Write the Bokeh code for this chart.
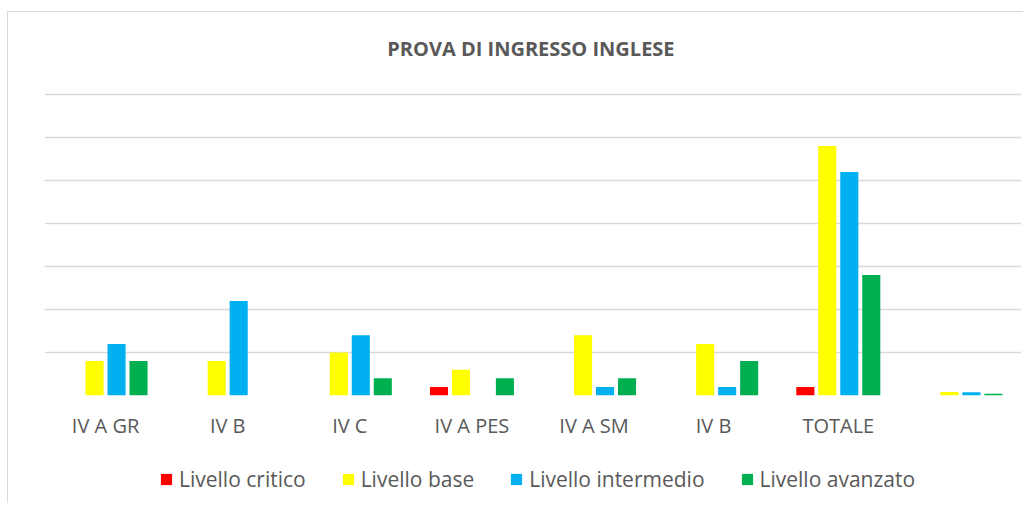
from bokeh.plotting import figure
from bokeh.models import FactorRange, Legend, LegendItem, ColumnDataSource, Range1d, Label
from bokeh.layouts import column
from bokeh.transform import dodge
from bokeh.embed import file_html
from bokeh.resources import INLINE

categories = ["IV A GR", "IV B", "IV C", "IV A PES", "IV A SM", "IV B ", "TOTALE", " "]
critico = [0, 0, 0, 1, 0, 0, 1, 0.014]
base = [4, 4, 5, 3, 7, 6, 29, 0.414]
intermedio = [6, 11, 7, 0, 1, 1, 26, 0.371]
avanzato = [4, 0, 2, 2, 2, 4, 14, 0.2]
series_names = ["Livello critico", "Livello base", "Livello intermedio", "Livello avanzato"]
colors = ["#FF0000", "#FFFF00", "#00B0F0", "#00B050"]
title_text = "PROVA DI INGRESSO  INGLESE"

border = "1px solid #d9d9d9"

# title row
tf = figure(x_range=Range1d(0, 1), y_range=Range1d(0, 1), frame_width=1015, frame_height=79,
            output_backend="svg", toolbar_location=None, min_border=0)
tf.styles = {"margin-left": "7px", "margin-top": "11px", "border-left": border, "border-top": border}
tf.axis.visible = False
tf.grid.visible = False
tf.outline_line_color = None
tf.add_layout(Label(x=489, y=44, x_units="screen", y_units="screen", text=title_text,
                    text_align="center", text_baseline="middle", text_font="Open Sans",
                    text_font_style="bold", text_font_size="20px", text_color="#595959"))

# chart
src = ColumnDataSource(dict(cat=categories, critico=critico, base=base,
                            intermedio=intermedio, avanzato=avanzato))

p = figure(x_range=FactorRange(*categories, range_padding=0), y_range=(0, 35.35),
           frame_width=976, frame_height=304, output_backend="svg", toolbar_location=None,
           min_border_left=36, min_border_right=3, min_border_top=0, min_border_bottom=48)
p.x_range.factor_padding = 0
p.styles = {"margin-left": "7px", "border-left": border}

offsets = [-0.27, -0.09, 0.09, 0.27]
fields = ["critico", "base", "intermedio", "avanzato"]
for f, off, c in zip(fields, offsets, colors):
    p.vbar(x=dodge("cat", off, range=p.x_range), top=f, width=0.148, source=src,
           fill_color=c, line_color=None)

p.yaxis.visible = False
p.xaxis.axis_line_color = None
p.xaxis.major_tick_line_color = None
p.xaxis.minor_tick_line_color = None
p.xaxis.major_label_text_font = "Open Sans"
p.xaxis.major_label_text_font_size = "20px"
p.xaxis.major_label_text_color = "#595959"
p.xaxis.major_label_standoff = 10
p.xgrid.grid_line_color = None
p.ygrid.grid_line_color = "#d9d9d9"
p.ygrid.grid_line_width = 1.5
p.yaxis.ticker = [0, 5, 10, 15, 20, 25, 30, 35]
p.outline_line_color = None

# legend row
lf = figure(x_range=Range1d(0, 1), y_range=Range1d(0, 1), frame_width=1015, frame_height=60,
            output_backend="svg", toolbar_location=None, min_border=0)
lf.styles = {"margin-left": "7px", "border-left": border}
lf.axis.visible = False
lf.grid.visible = False
lf.outline_line_color = None
offscreen = ColumnDataSource(dict(x=[-10], top=[-10]))
leg_renderers = [lf.vbar(x="x", top="top", width=0.1, source=offscreen, fill_color=c, line_color=None)
                 for c in colors]
legend = Legend(items=[LegendItem(label=n, renderers=[r]) for n, r in zip(series_names, leg_renderers)],
                orientation="horizontal", location=(151, 10),
                label_text_font="Open Sans", label_text_font_size="21px",
                label_text_color="#595959", glyph_width=14, glyph_height=14,
                spacing=35, label_standoff=6, border_line_color=None,
                background_fill_alpha=0, padding=0, margin=0)
lf.add_layout(legend, "center")

layout = column(tf, p, lf, spacing=0)
open("out.html", "w").write(file_html(layout, INLINE))
